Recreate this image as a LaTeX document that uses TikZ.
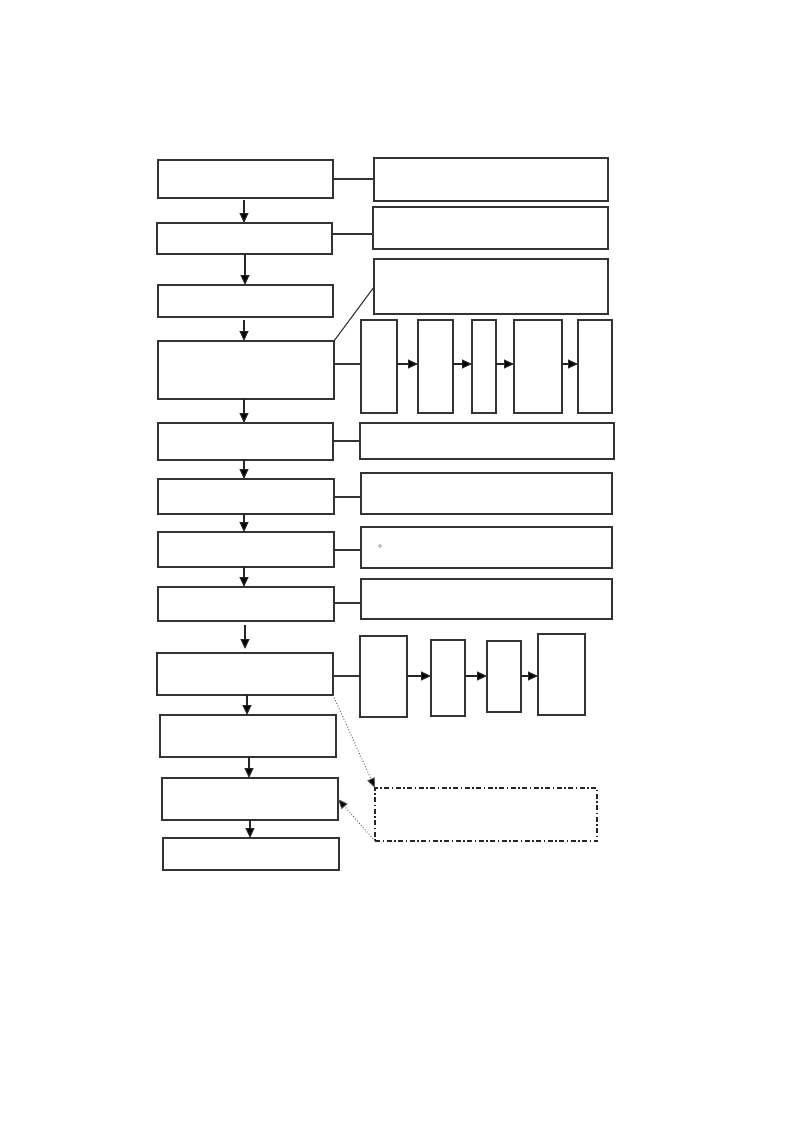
\documentclass[tikz,border=0pt]{standalone}
\usetikzlibrary{arrows.meta}
\newcommand\bx[5]{\node[box,minimum width={#4-#2},minimum height={#5-#3}] (#1) at ({(#2+#4)/2},{(#3+#5)/2}) {};}
\begin{document}
\begin{tikzpicture}[x=1pt,y=-1pt,
  box/.style={draw=black!80,line width=1.1pt,inner sep=0pt,outer sep=0pt,fill=white},
  conn/.style={draw=black!80,line width=1.1pt},
  arr/.style={draw=black!85,line width=1.1pt,-{Triangle[length=10pt,width=9pt,fill=black]}},
  dotarr/.style={draw=black!65,line width=0.9pt,dotted,-{Triangle[length=10pt,width=8pt,fill=black]}},
  ddbox/.style={draw=black!85,line width=1.2pt,inner sep=0pt,outer sep=0pt,dash pattern=on 5pt off 2.5pt on 1.5pt off 2.5pt}]
\useasboundingbox[fill=white] (0,0) rectangle (800,1132);
% left column
\bx{b1}{158}{160}{333}{198}
\bx{b2}{157}{223}{332}{254}
\bx{b3}{158}{285}{333}{317}
\bx{b4}{158}{341}{334}{399}
\bx{b5}{158}{423}{333}{460}
\bx{b6}{158}{479}{334}{514}
\bx{b7}{158}{532}{334}{567}
\bx{b8}{158}{587}{334}{621}
\bx{b9}{157}{653}{333}{695}
\bx{b10}{160}{715}{336}{757}
\bx{b11}{162}{778}{338}{820}
\bx{b12}{163}{838}{339}{870}
% right column
\bx{r1}{374}{158}{608}{201}
\bx{r2}{373}{207}{608}{249}
\bx{r3}{374}{259}{608}{314}
\bx{s1}{361}{320}{397}{413}
\bx{s2}{418}{320}{453}{413}
\bx{s3}{472}{320}{496}{413}
\bx{s4}{514}{320}{562}{413}
\bx{s5}{578}{320}{612}{413}
\bx{r5}{360}{423}{614}{459}
\bx{r6}{361}{473}{612}{514}
\bx{r7}{361}{527}{612}{568}
\bx{r8}{361}{579}{612}{619}
\bx{t1}{360}{636}{407}{717}
\bx{t2}{431}{640}{465}{716}
\bx{t3}{487}{641}{521}{712}
\bx{t4}{538}{634}{585}{715}
\node[ddbox,minimum width=222,minimum height=53] (dd) at (486,814.5) {};
\node[circle,draw=black!45,line width=0.5pt,inner sep=0pt,minimum size=3pt] (dot) at (380,546) {};
% vertical arrows
\draw[arr,shorten <=2pt] (b1.south -| 244,0) -- (b2.north -| 244,0);
\draw[arr] (b2.south -| 245,0) -- (b3.north -| 245,0);
\draw[arr,shorten <=3pt] (b3.south -| 244,0) -- (b4.north -| 244,0);
\draw[arr] (b4.south -| 244,0) -- (b5.north -| 244,0);
\draw[arr] (b5.south -| 244,0) -- (b6.north -| 244,0);
\draw[arr] (b6.south -| 244,0) -- (b7.north -| 244,0);
\draw[arr] (b7.south -| 244,0) -- (b8.north -| 244,0);
\draw[arr,shorten <=4pt,shorten >=4pt] (b8.south -| 245,0) -- (b9.north -| 245,0);
\draw[arr] (b9.south -| 247,0) -- (b10.north -| 247,0);
\draw[arr] (b10.south -| 249,0) -- (b11.north -| 249,0);
\draw[arr] (b11.south -| 250,0) -- (b12.north -| 250,0);
% side connectors
\draw[conn] (b1.east) -- (b1.east -| r1.west);
\draw[conn] (b2.east |- 0,234) -- (r2.west |- 0,234);
\draw[conn] (b4.north east) -- (r3.west |- 0,287);
\draw[conn] (b4.east |- 0,364) -- (s1.west |- 0,364);
\draw[conn] (b5.east |- 0,441) -- (r5.west |- 0,441);
\draw[conn] (b6.east |- 0,497) -- (r6.west |- 0,497);
\draw[conn] (b7.east |- 0,550) -- (r7.west |- 0,550);
\draw[conn] (b8.east |- 0,603) -- (r8.west |- 0,603);
\draw[conn] (b9.east |- 0,676) -- (t1.west |- 0,676);
% chain arrows
\draw[arr] (s1.east |- 0,364) -- (s2.west |- 0,364);
\draw[arr] (s2.east |- 0,364) -- (s3.west |- 0,364);
\draw[arr] (s3.east |- 0,364) -- (s4.west |- 0,364);
\draw[arr] (s4.east |- 0,364) -- (s5.west |- 0,364);
\draw[arr] (t1.east |- 0,676) -- (t2.west |- 0,676);
\draw[arr] (t2.east |- 0,676) -- (t3.west |- 0,676);
\draw[arr] (t3.east |- 0,676) -- (t4.west |- 0,676);
% dotted arrows
\draw[dotarr] (b9.south east) -- (dd.north west);
\draw[dotarr] (dd.south west) -- (b11.east);
\end{tikzpicture}
\end{document}
